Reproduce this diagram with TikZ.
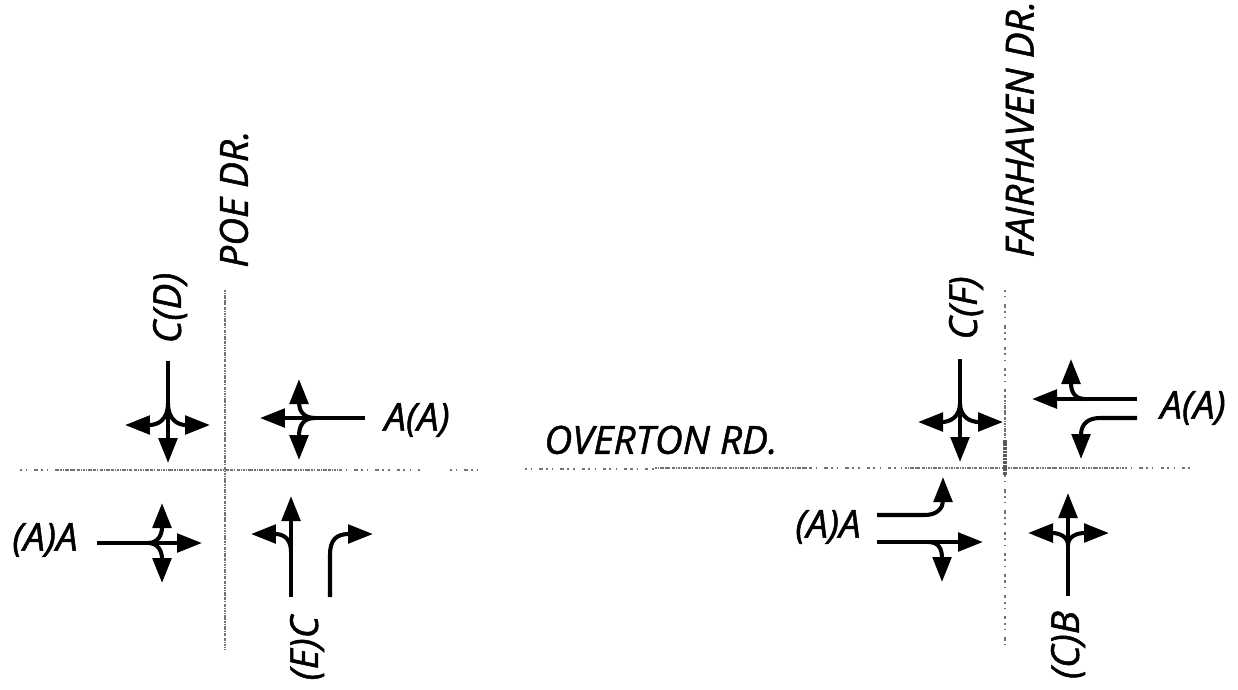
\documentclass[tikz,border=0pt]{standalone}
\usepackage{fontspec}
\setmainfont{Open Sans}[FakeBold=1.3]
\usetikzlibrary{arrows.meta,positioning}

\begin{document}
\begin{tikzpicture}[
      x=0.02cm, y=-0.02cm,
      every node/.style={font=\fontsize{22}{26}\selectfont\itshape, inner sep=0pt, anchor=center},
      flow/.style={line width=2.3pt, -{Triangle[length=0.5cm,width=0.37cm]}},
      road/.style={line width=1.5pt, black!55, dash pattern=on 1.2pt off 0.4pt on 0.6pt off 0.8pt on 2pt off 0.5pt on 0.4pt off 0.6pt},
      roadfaint/.style={line width=1.1pt, black!55, dash pattern=on 1.2pt off 2.4pt on 0.6pt off 4pt on 2pt off 1.8pt}
    ]
  \useasboundingbox (0,0) rectangle (1238,690);

  % --- Strassen ---
  \draw[road] (225,290) -- (225,650);
  \draw[roadfaint] (20,470) -- (60,470);
  \draw[road] (60,470) -- (340,470);
  \draw[roadfaint] (340,470) -- (420,470);
  \draw[roadfaint] (450,470) -- (478,470);
  \draw[roadfaint] (525,469) -- (655,469);
  \draw[road] (655,468) -- (810,468);
  \draw[roadfaint] (810,468) -- (905,468);
  \draw[road] (905,468) -- (1125,468);
  \draw[roadfaint] (1125,468) -- (1192,468);
  \draw[roadfaint] (1005,290) -- (1005,400);
  \draw[road] (1005,400) -- (1005,440);
  \draw[line width=2.2pt, black!65, dash pattern=on 2pt off 0.5pt on 1pt off 0.4pt] (1005,440) -- (1005,475);
  \draw[roadfaint] (1005,475) -- (1005,645);

  % --- Beschriftung ---
  \node (poe) [rotate=90] at (234,199) {POE DR.};
  \node (fairhaven) [rotate=90] at (1020,129) {FAIRHAVEN DR.};
  \node (overton) at (661,440) {OVERTON RD.};
  \node (northW) [rotate=90] at (170,308) {C(D)};
  \node (eastW) at (417,420) {A(A)};
  \node (westW) at (45,540) {(A)A};
  \node (southW) [rotate=90] at (307,648) {(E)C};
  \node (northE) [rotate=90] at (966,308) {C(F)};
  \node (eastE) at (1193,408) {A(A)};
  \node (westE) at (828,527) {(A)A};
  \node (southE) [rotate=90] at (1068,645) {(C)B};

  % --- Linke Kreuzung ---
  \draw[flow] (168,361) -- (168,463);
  \draw[flow] (168,403) .. controls (168,420) and (158,425) .. (125,425);
  \draw[flow] (168,403) .. controls (168,420) and (178,425) .. (210,425);

  \draw[flow] (365,418) -- (260,418);
  \draw[flow] (315,418) .. controls (303,418) and (299,410) .. (299,379);
  \draw[flow] (315,418) .. controls (303,418) and (299,426) .. (299,460);

  \draw[flow] (97,543) -- (202,543);
  \draw[flow] (148,543) .. controls (158,543) and (162,535) .. (162,503);
  \draw[flow] (148,543) .. controls (158,543) and (162,551) .. (162,583);

  \draw[flow] (291,597) -- (291,496);
  \draw[flow] (291,552) .. controls (291,540) and (285,534) .. (251,534);
  \draw[flow] (330,597) -- (330,555) .. controls (330,540) and (336,534) .. (373,534);

  % --- Rechte Kreuzung ---
  \draw[flow] (960,359) -- (960,462);
  \draw[flow] (960,403) .. controls (960,417) and (950,422) .. (918,422);
  \draw[flow] (960,403) .. controls (960,417) and (970,422) .. (1003,422);

  \draw[flow] (1137,399) -- (1032,399);
  \draw[flow] (1085,399) .. controls (1075,399) and (1071,392) .. (1071,359);
  \draw[flow] (1137,418) -- (1100,418) .. controls (1088,418) and (1081,424) .. (1081,459);

  \draw[flow] (877,515) -- (925,515) .. controls (937,515) and (943,508) .. (943,477);
  \draw[flow] (877,542) -- (983,542);
  \draw[flow] (928,542) .. controls (938,542) and (942,548) .. (942,582);

  \draw[flow] (1068,596) -- (1068,493);
  \draw[flow] (1068,545) .. controls (1068,537) and (1060,533) .. (1028,533);
  \draw[flow] (1068,545) .. controls (1068,537) and (1076,533) .. (1109,533);
\end{tikzpicture}
\end{document}
